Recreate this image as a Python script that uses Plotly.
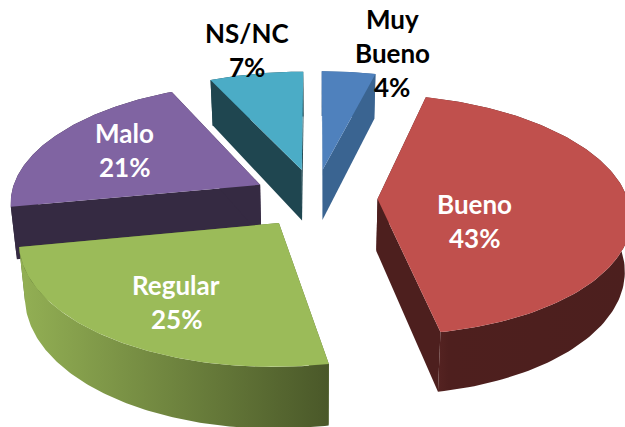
import numpy as np
import plotly.graph_objects as go

categories = ["Muy Bueno", "Bueno", "Regular", "Malo", "NS/NC"]
values = [4, 43, 25, 21, 7]
top_colors = ["#4F81BD", "#C0504D", "#9BBB59", "#8064A2", "#4BACC6"]
cut_colors = ["#3A6491", "#4D1F1E", "#5A6E33", "#352A42", "#1F4650"]
wall_scales = [
    [[0, "#3A6491"], [1, "#3A6491"]],
    [[0, "#5E2826"], [0.12, "#4E1F1E"], [1, "#4C1F1E"]],
    [[0, "#93B054"], [1, "#4A5829"]],
    [[0, "#352A42"], [1, "#352A42"]],
    [[0, "#1F4650"], [1, "#1F4650"]],
]
label_lines = [["Muy", "Bueno", "4%"], ["Bueno", "43%"], ["Regular", "25%"], ["Malo", "21%"], ["NS/NC", "7%"]]
label_colors = ["#000000", "#FFFFFF", "#FFFFFF", "#FFFFFF", "#000000"]
label_xy = [(392, 53), (474, 221), (176, 302), (124, 150), (247, 50)]
draw_order = [4, 0, 3, 1, 2]

W, H = 625, 427
CX, CY, R, RY, K, DEPTH, EXPLODE = 315, 198, 250, 118, 0.13, 52, 0.25
LINE = 34


def proj(wx, wy, down):
    wx, wy = np.asarray(wx, float), np.asarray(wy, float)
    s = 1 / (1 - K * wy)
    x = CX + R * wx * s
    x = CX + (x - CX) * (1 - 0.02 * down)
    y = CY + RY * wy * s + DEPTH * down * s
    return x, y


def poly(xs, ys, **kw):
    return go.Scatter(x=list(xs), y=list(ys), mode="lines", fill="toself",
                      line=dict(width=0), hoverinfo="skip", showlegend=False, **kw)


total = sum(values)
fractions = np.cumsum([0] + values) / total * 2 * np.pi
fig = go.Figure()

for i in draw_order:
    a0, a1 = fractions[i], fractions[i + 1]
    mid = (a0 + a1) / 2
    ox, oy = EXPLODE * np.sin(mid), -EXPLODE * np.cos(mid)
    th = np.linspace(a0, a1, 120)
    rimx, rimy = ox + np.sin(th), oy - np.cos(th)

    # cut faces
    for a in (a0, a1):
        ex, ey = ox + np.sin(a), oy - np.cos(a)
        wx, wy = np.array([ox, ex]), np.array([oy, ey])
        x0, y0 = proj(wx, wy, 0)
        x1, y1 = proj(wx, wy, 1)
        fig.add_trace(poly(np.r_[x0, x1[::-1], x0[0]], np.r_[y0, y1[::-1], y0[0]],
                           fillcolor=cut_colors[i]))
    # outer wall
    x0, y0 = proj(rimx, rimy, 0)
    x1, y1 = proj(rimx, rimy, 1)
    fig.add_trace(poly(np.r_[x0, x1[::-1], x0[0]], np.r_[y0, y1[::-1], y0[0]],
                       fillgradient=dict(type="horizontal", colorscale=wall_scales[i])))
    # top
    tx, ty = proj(np.r_[ox, rimx, ox], np.r_[oy, rimy, oy], 0)
    fig.add_trace(poly(tx, ty, fillcolor=top_colors[i], name=categories[i]))

for lines, (lx, ly), col in zip(label_lines, label_xy, label_colors):
    start = ly - LINE * (len(lines) - 1) / 2
    for j, t in enumerate(lines):
        fig.add_annotation(x=lx, y=start + j * LINE, text=f"<b>{t}</b>", showarrow=False,
                           xanchor="center", yanchor="middle",
                           font=dict(family="Lato", size=26, color=col))

fig.update_layout(
    width=W, height=H, margin=dict(l=0, r=0, t=0, b=0), autosize=False,
    paper_bgcolor="white", plot_bgcolor="white", showlegend=False,
    xaxis=dict(range=[0, W], visible=False, fixedrange=True),
    yaxis=dict(range=[H, 0], visible=False, fixedrange=True),
)
fig.write_html("out.html", config={"displayModeBar": False},
               post_script="document.body.style.margin='0';document.documentElement.style.overflow='hidden';")
